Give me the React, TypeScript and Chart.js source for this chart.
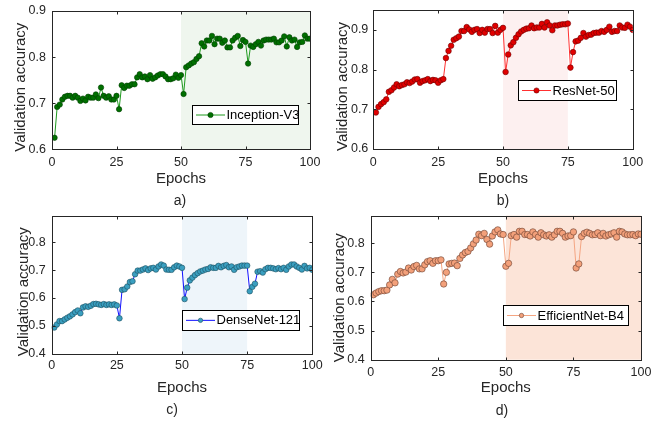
import React, { useEffect, useRef } from "react";
import { Chart, registerables } from "chart.js";

Chart.register(...registerables);

// ---------- data ----------
const EPOCHS = Array.from({ length: 100 }, (_, i) => i + 1);
const X_TICKS = [0, 25, 50, 75, 100];

const inceptionV3 = [
  0.625, 0.692, 0.697, 0.708, 0.714, 0.716, 0.716, 0.712, 0.716, 0.712,
  0.705, 0.71, 0.706, 0.714, 0.712, 0.712, 0.719, 0.711, 0.734, 0.716,
  0.712, 0.715, 0.708, 0.708, 0.716, 0.687, 0.739, 0.733, 0.738, 0.738,
  0.741, 0.741, 0.756, 0.763, 0.756, 0.758, 0.752, 0.761, 0.753, 0.756,
  0.76, 0.763, 0.763, 0.758, 0.752, 0.752, 0.754, 0.762, 0.755, 0.761,
  0.72, 0.778, 0.782, 0.786, 0.789, 0.796, 0.802, 0.83, 0.823, 0.836,
  0.836, 0.846, 0.828, 0.84, 0.84, 0.831, 0.836, 0.821, 0.821, 0.836,
  0.842, 0.846, 0.824, 0.837, 0.833, 0.786, 0.825, 0.822, 0.828, 0.833,
  0.825, 0.836, 0.838, 0.838, 0.838, 0.84, 0.832, 0.832, 0.836, 0.845,
  0.823, 0.843, 0.836, 0.838, 0.822, 0.832, 0.833, 0.847, 0.84, 0.84,
];

const resNet50 = [
  0.692, 0.706, 0.713, 0.718, 0.725, 0.744, 0.748, 0.755, 0.763, 0.758,
  0.761, 0.763, 0.768, 0.766, 0.77, 0.775, 0.776, 0.767, 0.771, 0.773,
  0.776, 0.771, 0.774, 0.773, 0.767, 0.773, 0.776, 0.829, 0.847, 0.86,
  0.875, 0.879, 0.883, 0.897, 0.897, 0.907, 0.901, 0.895, 0.9, 0.902,
  0.892, 0.9, 0.893, 0.902, 0.902, 0.892, 0.91, 0.893, 0.9, 0.905,
  0.794, 0.838, 0.861, 0.869, 0.88, 0.889, 0.896, 0.9, 0.903, 0.904,
  0.911, 0.904, 0.906, 0.906, 0.915, 0.906, 0.919, 0.911, 0.899, 0.911,
  0.911, 0.913, 0.914, 0.914, 0.916, 0.805, 0.844, 0.871, 0.873, 0.88,
  0.892, 0.883, 0.887, 0.888, 0.892, 0.893, 0.893, 0.897, 0.895, 0.9,
  0.908, 0.895, 0.897, 0.897, 0.911, 0.906, 0.905, 0.913, 0.908, 0.9,
];

const denseNet121 = [
  0.494, 0.505, 0.517, 0.517, 0.523, 0.529, 0.534, 0.541, 0.549, 0.555,
  0.545, 0.566, 0.57, 0.568, 0.572, 0.578, 0.579, 0.577, 0.575, 0.578,
  0.575, 0.577, 0.575, 0.577, 0.573, 0.527, 0.629, 0.631, 0.641, 0.657,
  0.66, 0.685, 0.698, 0.698, 0.702, 0.706, 0.7, 0.706, 0.708, 0.702,
  0.713, 0.72, 0.716, 0.702, 0.701, 0.701, 0.71, 0.716, 0.713, 0.708,
  0.596, 0.637, 0.663, 0.673, 0.682, 0.689, 0.695, 0.698, 0.702, 0.704,
  0.71, 0.708, 0.708, 0.715, 0.71, 0.715, 0.718, 0.71, 0.713, 0.701,
  0.71, 0.713, 0.716, 0.716, 0.716, 0.624, 0.64, 0.651, 0.694, 0.696,
  0.691, 0.703, 0.708, 0.708, 0.706, 0.703, 0.707, 0.703, 0.708, 0.701,
  0.713, 0.72, 0.72, 0.713, 0.708, 0.702, 0.715, 0.706, 0.708, 0.701,
];

const efficientNetB4 = [
  0.623, 0.629, 0.634, 0.637, 0.637, 0.639, 0.657, 0.676, 0.664, 0.694,
  0.703, 0.698, 0.701, 0.715, 0.708, 0.72, 0.724, 0.712, 0.712, 0.726,
  0.737, 0.74, 0.731, 0.74, 0.74, 0.743, 0.66, 0.7, 0.729, 0.731,
  0.732, 0.723, 0.748, 0.76, 0.768, 0.772, 0.784, 0.798, 0.811, 0.831,
  0.826, 0.834, 0.813, 0.797, 0.825, 0.839, 0.846, 0.832, 0.83, 0.721,
  0.731, 0.826, 0.83, 0.821, 0.841, 0.841, 0.83, 0.83, 0.825, 0.839,
  0.83, 0.821, 0.836, 0.829, 0.825, 0.829, 0.821, 0.829, 0.841, 0.841,
  0.834, 0.821, 0.825, 0.826, 0.839, 0.715, 0.729, 0.823, 0.834, 0.838,
  0.834, 0.829, 0.83, 0.836, 0.826, 0.834, 0.825, 0.829, 0.832, 0.836,
  0.821, 0.841, 0.839, 0.832, 0.829, 0.829, 0.83, 0.826, 0.832, 0.831,
];

const SERIES_NAMES = ["Inception-V3", "ResNet-50", "DenseNet-121", "EfficientNet-B4"];
const Y_TICKS_A = [0.6, 0.7, 0.8, 0.9];
const Y_TICKS_B = [0.6, 0.7, 0.8, 0.9];
const Y_TICKS_C = [0.4, 0.5, 0.6, 0.7, 0.8];
const Y_TICKS_D = [0.4, 0.5, 0.6, 0.7, 0.8];
const Y_RANGE_A = [0.6, 0.9];
const Y_RANGE_B = [0.6, 0.95];
const Y_RANGE_C = [0.4, 0.895];
const Y_RANGE_D = [0.4, 0.895];
const SHADE_A = [50, 100];
const SHADE_B = [50, 75];
const SHADE_C = [50, 75];
const SHADE_D = [50, 100];
const CAPTIONS = ["a)", "b)", "c)", "d)"];
const X_TITLE = "Epochs";
const Y_TITLE = "Validation accuracy";

// ---------- layout / style ----------
const FONT = "'Liberation Sans', Arial, Helvetica, sans-serif";
const AXIS_COLOR = "#262626";

type Panel = {
  name: string;
  values: number[];
  yRange: number[];
  yTicks: number[];
  shade: number[];
  caption: string;
  left: number; top: number; width: number; height: number;
  pad: { top: number; right: number; bottom: number; left: number };
  yWidth: number; xHeight: number; xTickPad: number; yTickPad: number;
  yTitleX: number; yTitleShift: number;
  legend: { x: number; y: number; w: number; h: number };
  capX: number; capY: number;
  line: string; fill: string; edge: string; shadeColor: string; radius: number; legendRadius: number;
};

const PANELS: Panel[] = [
  {
    name: SERIES_NAMES[0], values: inceptionV3, yRange: Y_RANGE_A, yTicks: Y_TICKS_A, shade: SHADE_A, caption: CAPTIONS[0],
    left: 0, top: 0, width: 330, height: 211,
    pad: { top: 11, right: 20, bottom: 23, left: 0 },
    yWidth: 52, xHeight: 38.7, xTickPad: 6, yTickPad: 6, yTitleX: 21, yTitleShift: 7,
    legend: { x: 191.7, y: 105, w: 106, h: 19 },
    capX: 180, capY: 200,
    line: "#1f9a1f", fill: "#007000", edge: "#004000", shadeColor: "#eff6ee", radius: 2.7, legendRadius: 2.6,
  },
  {
    name: SERIES_NAMES[1], values: resNet50, yRange: Y_RANGE_B, yTicks: Y_TICKS_B, shade: SHADE_B, caption: CAPTIONS[1],
    left: 330, top: 0, width: 331, height: 211,
    pad: { top: 10, right: 28.3, bottom: 23, left: 0 },
    yWidth: 43.3, xHeight: 39, xTickPad: 6.5, yTickPad: 5, yTitleX: 13, yTitleShift: 7,
    legend: { x: 188.3, y: 80, w: 97.7, h: 20 },
    capX: 173, capY: 200,
    line: "#ff3030", fill: "#e00000", edge: "#700000", shadeColor: "#fdf0f0", radius: 2.8, legendRadius: 2.6,
  },
  {
    name: SERIES_NAMES[2], values: denseNet121, yRange: Y_RANGE_C, yTicks: Y_TICKS_C, shade: SHADE_C, caption: CAPTIONS[2],
    left: 0, top: 211, width: 330, height: 211,
    pad: { top: 4.7, right: 17.7, bottom: 25.3, left: 0 },
    yWidth: 51.7, xHeight: 43, xTickPad: 4.8, yTickPad: 6, yTitleX: 23.7, yTitleShift: 7,
    legend: { x: 181.7, y: 99.3, w: 116.6, h: 19.7 },
    capX: 172, capY: 198,
    line: "#1010ff", fill: "#3a9fc0", edge: "#1d4f60", shadeColor: "#eef5fa", radius: 2.8, legendRadius: 2.2,
  },
  {
    name: SERIES_NAMES[3], values: efficientNetB4, yRange: Y_RANGE_D, yTicks: Y_TICKS_D, shade: SHADE_D, caption: CAPTIONS[3],
    left: 330, top: 211, width: 331, height: 211,
    pad: { top: 4, right: 20, bottom: 25.3, left: 0 },
    yWidth: 40.7, xHeight: 37, xTickPad: 5.8, yTickPad: 6, yTitleX: 9.5, yTitleShift: 10,
    legend: { x: 172.7, y: 94.3, w: 125, h: 20 },
    capX: 172, capY: 199,
    line: "#f4a582", fill: "#f3a07a", edge: "#6a4030", shadeColor: "#fce4d8", radius: 3.2, legendRadius: 2.2,
  },
];

function fmt(v: number): string {
  return String(Math.round(v * 1000) / 1000);
}

function PanelChart({ p }: { p: Panel }) {
  const ref = useRef<HTMLCanvasElement | null>(null);

  useEffect(() => {
    if (!ref.current) return;

    const decor = {
      id: "decor-" + p.caption,
      beforeDatasetsDraw(chart: any) {
        const { ctx, chartArea } = chart;
        const xs = chart.scales.x;
        const x0 = xs.getPixelForValue(p.shade[0]);
        const x1 = xs.getPixelForValue(p.shade[1]);
        ctx.save();
        ctx.fillStyle = p.shadeColor;
        ctx.fillRect(x0, chartArea.top, x1 - x0, chartArea.bottom - chartArea.top);
        ctx.restore();
      },
      afterDraw(chart: any) {
        const { ctx, chartArea } = chart;
        const xs = chart.scales.x;
        const ys = chart.scales.y;
        const L = Math.round(chartArea.left) + 0.5;
        const R = Math.round(chartArea.right) + 0.5;
        const T = Math.round(chartArea.top) + 0.5;
        const B = Math.round(chartArea.bottom) + 0.5;
        ctx.save();
        ctx.strokeStyle = AXIS_COLOR;
        ctx.lineWidth = 1;
        ctx.strokeRect(L, T, R - L, B - T);
        ctx.beginPath();
        const tl = 3;
        for (const t of X_TICKS) {
          const x = Math.round(xs.getPixelForValue(t)) + 0.5;
          ctx.moveTo(x, B); ctx.lineTo(x, B - tl);
          ctx.moveTo(x, T); ctx.lineTo(x, T + tl);
        }
        for (const t of p.yTicks) {
          const y = Math.round(ys.getPixelForValue(t)) + 0.5;
          ctx.moveTo(L, y); ctx.lineTo(L + tl, y);
          ctx.moveTo(R, y); ctx.lineTo(R - tl, y);
        }
        ctx.stroke();

        // y-axis title
        ctx.save();
        ctx.translate(p.yTitleX, (chartArea.top + chartArea.bottom) / 2 + p.yTitleShift);
        ctx.rotate(-Math.PI / 2);
        ctx.fillStyle = AXIS_COLOR;
        ctx.font = "15px " + FONT;
        ctx.textAlign = "center";
        ctx.textBaseline = "middle";
        ctx.fillText(Y_TITLE, 0, 0);
        ctx.restore();

        // legend box
        const lg = p.legend;
        const lx = Math.round(lg.x) + 0.5;
        const ly = Math.round(lg.y) + 0.5;
        ctx.fillStyle = "#ffffff";
        ctx.fillRect(lx, ly, lg.w, lg.h);
        ctx.strokeStyle = "#000000";
        ctx.strokeRect(lx, ly, Math.round(lg.w), Math.round(lg.h));
        const cy = ly + lg.h / 2;
        ctx.strokeStyle = p.line;
        ctx.lineWidth = 1;
        ctx.beginPath();
        ctx.moveTo(lx + 3.5, cy);
        ctx.lineTo(lx + 32.5, cy);
        ctx.stroke();
        ctx.beginPath();
        ctx.arc(lx + 18, cy, p.legendRadius, 0, Math.PI * 2);
        ctx.fillStyle = p.fill;
        ctx.fill();
        ctx.lineWidth = 0.6;
        ctx.strokeStyle = p.edge;
        ctx.stroke();
        ctx.fillStyle = "#000000";
        ctx.font = "13px " + FONT;
        ctx.textBaseline = "middle";
        ctx.textAlign = "left";
        ctx.fillText(p.name, lx + 34, cy + 0.5);
        ctx.restore();
      },
    };

    const chart = new Chart(ref.current, {
      type: "line",
      data: {
        datasets: [
          {
            label: p.name,
            data: EPOCHS.map((e, i) => ({ x: e, y: p.values[i] })),
            borderColor: p.line,
            borderWidth: 1,
            pointRadius: p.radius,
            pointBackgroundColor: p.fill,
            pointBorderColor: p.edge,
            pointBorderWidth: 0.6,
            tension: 0,
          },
        ],
      },
      options: {
        responsive: false,
        animation: false,
        devicePixelRatio: 1,
        layout: { padding: p.pad },
        plugins: { legend: { display: false }, tooltip: { enabled: false }, title: { display: false } },
        scales: {
          x: {
            type: "linear",
            min: 0,
            max: 100,
            grid: { display: false, drawTicks: false },
            border: { display: false },
            afterBuildTicks: (s: any) => { s.ticks = X_TICKS.map((v) => ({ value: v })); },
            afterFit: (s: any) => {
              s.height = p.xHeight;
              s.paddingLeft = 0; s.paddingRight = 0; s.paddingTop = 0; s.paddingBottom = 0;
            },
            ticks: {
              color: AXIS_COLOR,
              font: { family: FONT, size: 12.5 },
              padding: p.xTickPad,
              maxRotation: 0,
              autoSkip: false,
              callback: (v: any) => fmt(Number(v)),
            },
            title: {
              display: true,
              text: X_TITLE,
              color: AXIS_COLOR,
              font: { family: FONT, size: 15 },
              padding: 0,
            },
          },
          y: {
            type: "linear",
            min: p.yRange[0],
            max: p.yRange[1],
            grid: { display: false, drawTicks: false },
            border: { display: false },
            afterBuildTicks: (s: any) => { s.ticks = p.yTicks.map((v) => ({ value: v })); },
            afterFit: (s: any) => {
              s.width = p.yWidth;
              s.paddingLeft = 0; s.paddingRight = 0; s.paddingTop = 0; s.paddingBottom = 0;
            },
            ticks: {
              color: AXIS_COLOR,
              font: { family: FONT, size: 12.5 },
              padding: p.yTickPad,
              autoSkip: false,
              callback: (v: any) => fmt(Number(v)),
            },
            title: { display: false, text: Y_TITLE },
          },
        },
      },
      plugins: [decor],
    } as any);

    return () => chart.destroy();
  }, [p]);

  return (
    <div style={{ position: "absolute", left: p.left, top: p.top, width: p.width, height: p.height }}>
      <canvas ref={ref} width={p.width} height={p.height} style={{ display: "block", width: p.width, height: p.height }} />
      <div
        style={{
          position: "absolute",
          left: p.capX,
          top: p.capY,
          transform: "translate(-50%, -50%)",
          fontFamily: FONT,
          fontSize: 14,
          color: AXIS_COLOR,
          whiteSpace: "nowrap",
        }}
      >
        {p.caption}
      </div>
    </div>
  );
}

export default function App() {
  return (
    <div style={{ position: "absolute", left: 0, top: 0, width: 661, height: 422, background: "#ffffff", overflow: "hidden" }}>
      {PANELS.map((p) => (
        <PanelChart key={p.caption} p={p} />
      ))}
    </div>
  );
}
